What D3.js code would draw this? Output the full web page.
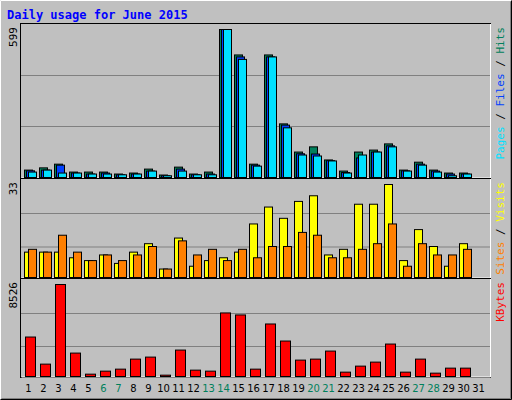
<!DOCTYPE html>
<html><head><meta charset="utf-8">
<script src="https://cdn.jsdelivr.net/npm/d3@7"></script>
<style>body{margin:0;background:#fff}</style></head>
<body><svg id="c" width="512" height="400"></svg>
<script>
const days = d3.range(1,32);
const weekends = [6,7,13,14,20,21,27,28];
const hits  = [30,39,54,22,22,22,14,18,34,10,42,14,22,599,496,54,496,217,103,124,71,26,103,111,136,30,62,30,18,18,0];
const files = [27,30,50,18,14,18,11,14,26,7,34,11,14,599,488,50,488,212,96,95,68,20,79,103,128,27,54,26,14,14,0];
const pages = [22,30,18,18,14,14,11,14,26,7,26,11,11,599,478,46,488,201,91,87,67,18,91,103,124,26,50,22,7,14,0];
const visits= [9,9,9,7,6,8,5,9,12,3,14,4,6,7,9,19,25,21,27,29,8,10,26,26,33,6,17,11,4,12,0];
const sites = [10,9,15,9,6,8,6,8,11,3,13,8,10,6,10,7,11,11,16,15,7,7,10,12,19,4,12,8,8,10,0];
const kbytes= [3658,1147,8526,2170,217,496,682,1612,1798,124,2449,589,496,5890,5704,682,4867,3286,1519,1612,2356,403,961,1333,3007,403,1612,310,775,775,0];

const svg = d3.select("#c");
const F = "DejaVu Sans Mono, monospace";
svg.append("rect").attr("x",0).attr("y",0).attr("width",512).attr("height",400).attr("fill","#c0c0c0");
svg.append("path").attr("d","M0.5,399.5V0.5H511.5").attr("stroke","#fff").attr("fill","none");
svg.append("path").attr("d","M0.5,399.5H511.5V0.5").attr("stroke","#000").attr("fill","none");
svg.append("path").attr("d","M1.5,398.5H510.5V1.5").attr("stroke","#808080").attr("fill","none");
svg.append("text").attr("x",7).attr("y",19).text("Daily usage for June 2015")
  .attr("font-family",F).attr("font-weight","bold").attr("font-size",12).attr("fill","#0000ff");

const x = d3.scaleBand().domain(days).range([20,485]).paddingInner(0);
const panels = [
  {top:25,bottom:177,max:599,label:"599",series:[[hits,"#00805c",0],[files,"#0040ff",2],[pages,"#00e0ff",4]],w:8,
   names:[["Pages","#00e0ff"],[" / ","#000"],["Files","#0040ff"],[" / ","#000"],["Hits","#00805c"]], grid:[51,102]},
  {top:180,bottom:277,max:33,label:"33",series:[[visits,"#ffff00",0],[sites,"#ff8000",4]],w:8,
   names:[["Sites","#ff8000"],[" / ","#000"],["Visits","#ffff00"]], grid:[30.5,64]},
  {top:280,bottom:376,max:8526,label:"8526",series:[[kbytes,"#ff0000",1]],w:10,
   names:[["KBytes","#ff0000"]], grid:[30,63]}
];
panels.forEach(p=>{
  svg.append("rect").attr("x",20.5).attr("y",p.top-1.5).attr("width",470).attr("height",p.bottom-p.top+3)
    .attr("fill","#c0c0c0").attr("stroke","#000");
  svg.append("path").attr("d",`M21.5,${p.bottom+1}H490.5V${p.top-1}`).attr("stroke","#fff").attr("fill","none");
  p.grid.forEach(g=>svg.append("line").attr("x1",21).attr("x2",490).attr("y1",p.bottom-g+0.5).attr("y2",p.bottom-g+0.5)
    .attr("stroke","#808080"));
  const y = d3.scaleLinear().domain([0,p.max]).range([p.bottom,p.top+4]);
  p.series.forEach(([vals,col,off])=>{
    svg.append("g").selectAll("rect").data(days.filter((d,i)=>vals[i]>0)).join("rect")
      .attr("x",d=>x(d)+4.5+off).attr("y",d=>y(vals[d-1])+0.5)
      .attr("width",p.w).attr("height",d=>Math.max(1,p.bottom-y(vals[d-1])))
      .attr("fill",col).attr("stroke","#000");
  });
  svg.append("text").attr("transform",`translate(17,${p.top+2}) rotate(-90)`).attr("text-anchor","end")
    .attr("font-family",F).attr("font-size",11).text(p.label);
  const t = svg.append("text").attr("transform",`translate(504,${p.top+2}) rotate(-90)`).attr("text-anchor","end")
    .attr("font-family",F).attr("font-size",11);
  p.names.forEach(([s,c])=>t.append("tspan").attr("fill",c).text(s));
});
svg.append("g").selectAll("text").data(days).join("text")
  .attr("x",d=>x(d)+x.bandwidth()/2+1).attr("y",392).attr("text-anchor","middle")
  .attr("font-family","DejaVu Sans, sans-serif").attr("font-size",10)
  .attr("fill",d=>weekends.includes(d)?"#00805c":"#000").text(d=>d);
</script></body></html>
